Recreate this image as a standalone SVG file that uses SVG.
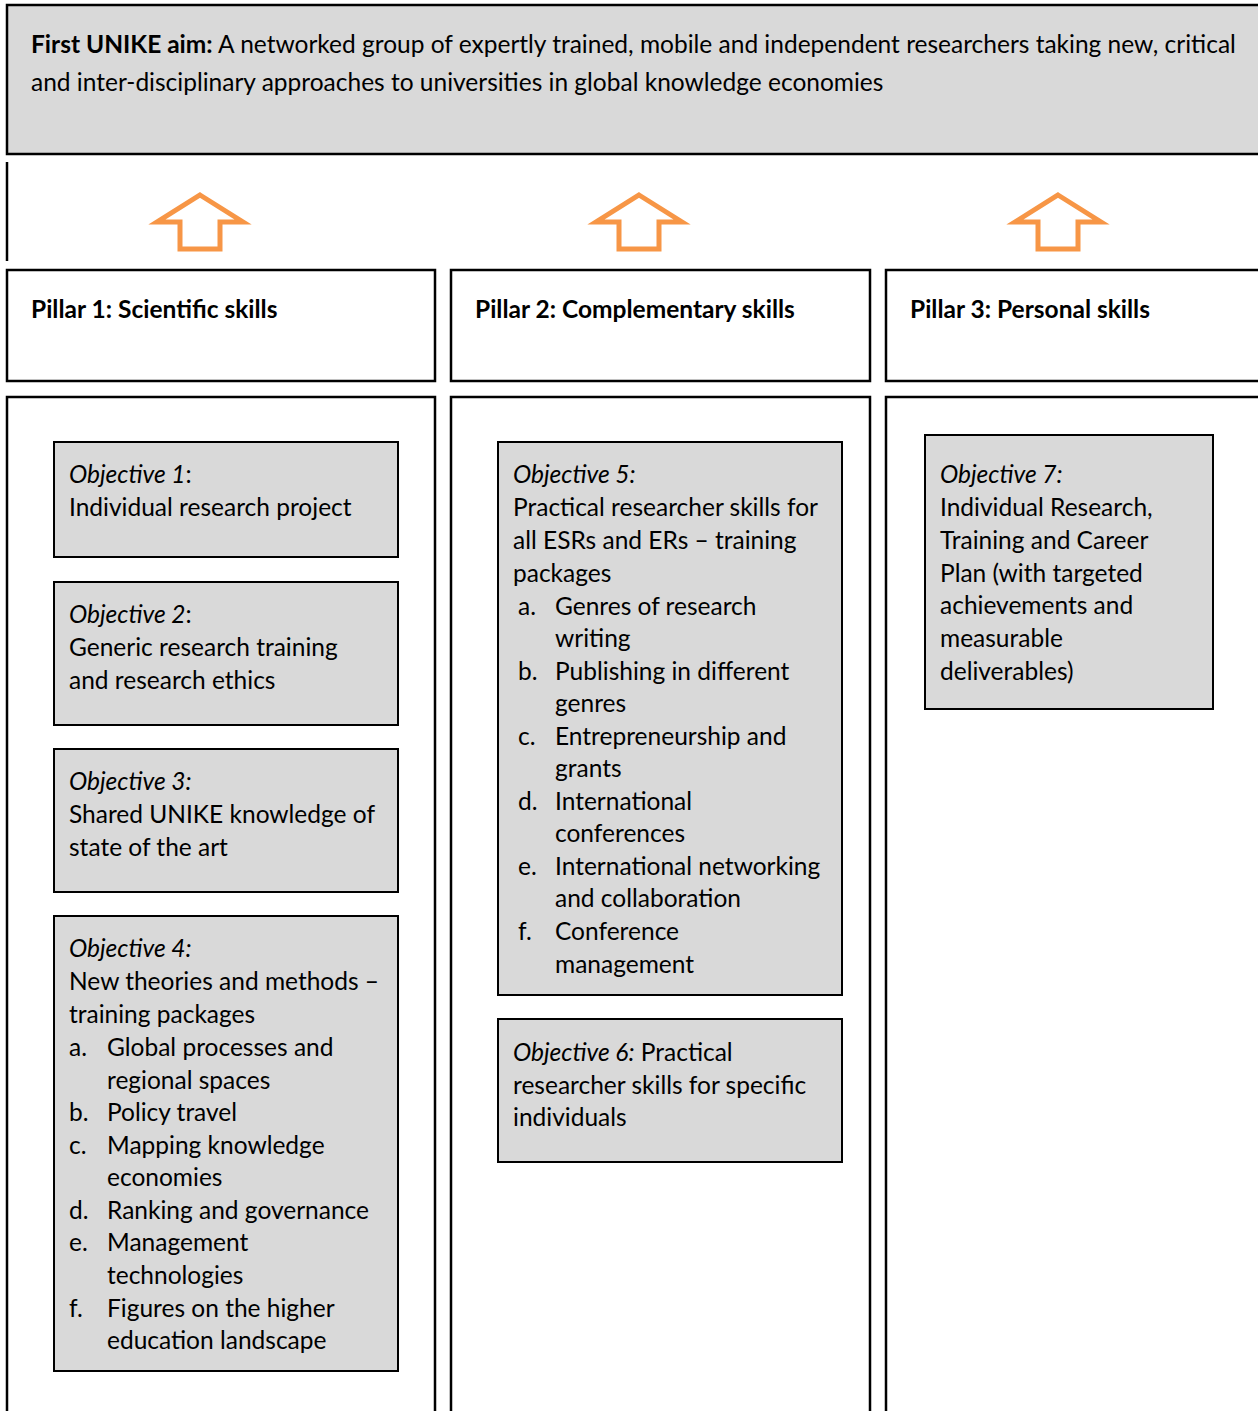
<svg xmlns="http://www.w3.org/2000/svg" width="1258" height="1411" viewBox="0 0 1258 1411">
<defs>
<style>
.box{fill:#fff;stroke:#000;stroke-width:2.5}
.obj{fill:#d9d9d9;stroke:#000;stroke-width:2}
.aim{fill:#d9d9d9;stroke:#000;stroke-width:2.5}
.arr{fill:#fff;stroke:#f79646;stroke-width:5;stroke-linejoin:miter}
text{font-family:Lato,"Open Sans","Liberation Sans",sans-serif;font-size:24.5px;fill:#000}
.b{font-weight:bold}
.i{font-style:italic}
</style>
<polygon id="arrowshape" points="0,0 43,27 20,27 20,54 -20,54 -20,27 -43,27"/>
</defs>
<g id="aim">
<rect class="aim" x="7" y="5" width="1260" height="149"/>
<text x="31" y="53"><tspan class="b">First UNIKE aim:</tspan> A networked group of expertly trained, mobile and independent researchers taking new, critical</text>
<text x="31" y="91">and inter-disciplinary approaches to universities in global knowledge economies</text>
</g>
<g id="connectors">
<line x1="7" y1="162" x2="7" y2="261" stroke="#000" stroke-width="2.5"/>
<use href="#arrowshape" class="arr" x="200" y="195"/>
<use href="#arrowshape" class="arr" x="639" y="195"/>
<use href="#arrowshape" class="arr" x="1058" y="195"/>
</g>
<g id="pillar1">
<rect class="box" x="7" y="270" width="428" height="111"/>
<text class="b" x="31" y="318">Pillar 1: Scientific skills</text>
</g>
<g id="pillar2">
<rect class="box" x="451" y="270" width="419" height="111"/>
<text class="b" x="475" y="318">Pillar 2: Complementary skills</text>
</g>
<g id="pillar3">
<rect class="box" x="886" y="270" width="380" height="111"/>
<text class="b" x="910" y="318">Pillar 3: Personal skills</text>
</g>
<g id="column1">
<rect class="box" x="7" y="397" width="428" height="1030"/>
</g>
<g id="column2">
<rect class="box" x="451" y="397" width="419" height="1030"/>
</g>
<g id="column3">
<rect class="box" x="886" y="397" width="380" height="1030"/>
</g>
<g id="objective1">
<rect class="obj" x="54" y="442" width="344" height="115"/>
<text x="69" y="483"><tspan class="i">Objective 1</tspan>:</text>
<text x="69" y="516">Individual research project</text>
</g>
<g id="objective2">
<rect class="obj" x="54" y="582" width="344" height="143"/>
<text x="69" y="623"><tspan class="i">Objective 2</tspan>:</text>
<text x="69" y="656">Generic research training</text>
<text x="69" y="689">and research ethics</text>
</g>
<g id="objective3">
<rect class="obj" x="54" y="749" width="344" height="143"/>
<text x="69" y="790" class="i">Objective 3:</text>
<text x="69" y="823">Shared UNIKE knowledge of</text>
<text x="69" y="856">state of the art</text>
</g>
<g id="objective4">
<rect class="obj" x="54" y="916" width="344" height="455"/>
<text x="69" y="957" class="i">Objective 4:</text>
<text x="69" y="990">New theories and methods –</text>
<text x="69" y="1023">training packages</text>
<text x="69" y="1056">a.</text><text x="107" y="1056">Global processes and</text>
<text x="107" y="1089">regional spaces</text>
<text x="69" y="1121">b.</text><text x="107" y="1121">Policy travel</text>
<text x="69" y="1154">c.</text><text x="107" y="1154">Mapping knowledge</text>
<text x="107" y="1186">economies</text>
<text x="69" y="1219">d.</text><text x="107" y="1219">Ranking and governance</text>
<text x="69" y="1251">e.</text><text x="107" y="1251">Management</text>
<text x="107" y="1284">technologies</text>
<text x="69" y="1317">f.</text><text x="107" y="1317">Figures on the higher</text>
<text x="107" y="1349">education landscape</text>
</g>
<g id="objective5">
<rect class="obj" x="498" y="442" width="344" height="553"/>
<text x="513" y="483" class="i">Objective 5:</text>
<text x="513" y="516">Practical researcher skills for</text>
<text x="513" y="549">all ESRs and ERs – training</text>
<text x="513" y="582">packages</text>
<text x="518" y="615">a.</text><text x="555" y="615">Genres of research</text>
<text x="555" y="647">writing</text>
<text x="518" y="680">b.</text><text x="555" y="680">Publishing in different</text>
<text x="555" y="712">genres</text>
<text x="518" y="745">c.</text><text x="555" y="745">Entrepreneurship and</text>
<text x="555" y="777">grants</text>
<text x="518" y="810">d.</text><text x="555" y="810">International</text>
<text x="555" y="842">conferences</text>
<text x="518" y="875">e.</text><text x="555" y="875">International networking</text>
<text x="555" y="907">and collaboration</text>
<text x="518" y="940">f.</text><text x="555" y="940">Conference</text>
<text x="555" y="973">management</text>
</g>
<g id="objective6">
<rect class="obj" x="498" y="1019" width="344" height="143"/>
<text x="513" y="1061"><tspan class="i">Objective 6:</tspan> Practical</text>
<text x="513" y="1094">researcher skills for specific</text>
<text x="513" y="1126">individuals</text>
</g>
<g id="objective7">
<rect class="obj" x="925" y="435" width="288" height="274"/>
<text x="940" y="483" class="i">Objective 7:</text>
<text x="940" y="516">Individual Research,</text>
<text x="940" y="549">Training and Career</text>
<text x="940" y="582">Plan (with targeted</text>
<text x="940" y="614">achievements and</text>
<text x="940" y="647">measurable</text>
<text x="940" y="680">deliverables)</text>
</g>
</svg>
